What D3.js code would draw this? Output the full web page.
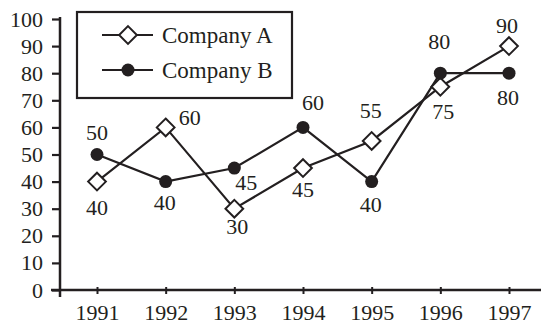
<!DOCTYPE html>
<html><head><meta charset="utf-8">
<script src="https://cdn.jsdelivr.net/npm/d3@7/dist/d3.min.js"></script>
<style>
html,body{margin:0;padding:0;background:#fff;}
svg{display:block;}
text{font-family:"Liberation Serif","Times New Roman",serif;fill:#231f20;}
</style></head>
<body>
<svg id="chart" width="543" height="327"></svg>
<script>
const years = [1991, 1992, 1993, 1994, 1995, 1996, 1997];
const companyA = [40, 60, 30, 45, 55, 75, 90];
const companyB = [50, 40, 45, 60, 40, 80, 80];
const yTicks = [0, 10, 20, 30, 40, 50, 60, 70, 80, 90, 100];
const seriesNames = ["Company A", "Company B"];
// label placement offsets [dx, dy] relative to each point (layout only)
const placeA = [[0,26],[24,-10],[3,18],[0,21],[-1,-31],[3,25],[-2,-21]];
const placeB = [[0,-22],[-1,21],[12,14],[10,-25],[-1,23],[-1,-32],[-1,24]];

const ink = "#231f20";
const svg = d3.select("#chart");
const x = d3.scaleLinear().domain([1991, 1997]).range([97, 509]);
const y = d3.scaleLinear().domain([0, 100]).range([290, 19]);

// Y axis
const yAxis = d3.axisLeft(y).tickValues(yTicks).tickSize(8).tickPadding(9).tickFormat(d3.format("d"));
const gy = svg.append("g").attr("transform", "translate(60,0)").call(yAxis);
gy.select(".domain").remove();
gy.selectAll(".tick line").attr("stroke", ink).attr("stroke-width", 2.2);
gy.selectAll(".tick text").attr("font-size", 22).style("font-family", "Liberation Serif").attr("fill", ink);
svg.append("line").attr("x1", 60).attr("x2", 60).attr("y1", y(100) - 2).attr("y2", y(0) + 7)
  .attr("stroke", ink).attr("stroke-width", 2.5);

// X axis
svg.append("line").attr("x1", 51).attr("x2", 541).attr("y1", y(0)).attr("y2", y(0))
  .attr("stroke", ink).attr("stroke-width", 2.5);
const xAxis = d3.axisBottom(x).tickValues(years).tickSize(7).tickPadding(10).tickFormat(d3.format("d"));
const gx = svg.append("g").attr("transform", `translate(0,${y(0) - 3})`).call(xAxis);
gx.select(".domain").remove();
gx.selectAll(".tick line").attr("stroke", ink).attr("stroke-width", 2);
gx.selectAll(".tick text").attr("font-size", 22).style("font-family", "Liberation Serif").attr("fill", ink);

const line = d3.line().x((d, i) => x(years[i])).y(d => y(d));

// Series B
svg.append("path").datum(companyB).attr("d", line).attr("fill", "none").attr("stroke", ink).attr("stroke-width", 2.2);
// Series A
svg.append("path").datum(companyA).attr("d", line).attr("fill", "none").attr("stroke", ink).attr("stroke-width", 2.2);

const diamond = d3.symbol().type(d3.symbolDiamond2).size(200);
svg.selectAll(".ma").data(companyA).join("path")
  .attr("d", diamond)
  .attr("transform", (d, i) => `translate(${x(years[i])},${y(d)})`)
  .attr("fill", "#fff").attr("stroke", ink).attr("stroke-width", 2);
svg.selectAll(".mb").data(companyB).join("circle")
  .attr("cx", (d, i) => x(years[i])).attr("cy", d => y(d)).attr("r", 6.5)
  .attr("fill", ink);

// Value labels
function labels(data, place) {
  svg.append("g").selectAll("text").data(data).join("text")
    .attr("x", (d, i) => x(years[i]) + place[i][0])
    .attr("y", (d, i) => y(d) + place[i][1])
    .attr("dy", "0.35em")
    .attr("text-anchor", "middle")
    .attr("font-size", 22)
    .text(d => d);
}
labels(companyA, placeA);
labels(companyB, placeB);

// Legend
const lg = svg.append("g");
lg.append("rect").attr("x", 77).attr("y", 12).attr("width", 215).attr("height", 86)
  .attr("fill", "#fff").attr("stroke", ink).attr("stroke-width", 2.2);
const rows = [35, 70];
seriesNames.forEach((name, i) => {
  const g = lg.append("g").attr("transform", `translate(0,${rows[i]})`);
  g.append("line").attr("x1", 102).attr("x2", 153).attr("y1", 0).attr("y2", 0)
    .attr("stroke", ink).attr("stroke-width", 2.2);
  if (i === 0) {
    g.append("path").attr("d", diamond).attr("transform", "translate(128,0)")
      .attr("fill", "#fff").attr("stroke", ink).attr("stroke-width", 2);
  } else {
    g.append("circle").attr("cx", 128).attr("cy", 0).attr("r", 6.5).attr("fill", ink);
  }
  g.append("text").attr("x", 162).attr("y", 0).attr("dy", "0.35em")
    .attr("font-size", 23).text(name);
});
</script>
</body></html>
